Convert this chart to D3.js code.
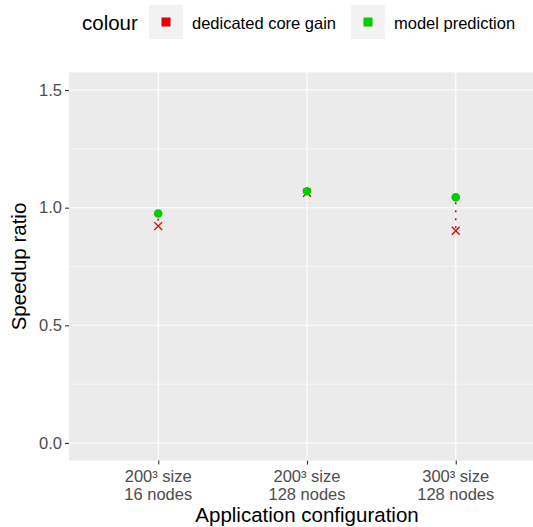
<!DOCTYPE html>
<html>
<head>
<meta charset="utf-8">
<script src="https://cdn.jsdelivr.net/npm/d3@7"></script>
<style>
  body { margin: 0; background: #fff; }
  text { font-family: "Liberation Sans", Arial, sans-serif; }
</style>
</head>
<body>
<script>
'use strict'

// data
const configs = ['200³ size\n16 nodes', '200³ size\n128 nodes', '300³ size\n128 nodes']
const dedicatedGain = [0.922, 1.063, 0.902]
const modelPrediction = [0.975, 1.07, 1.044]
const yTicks = [0, 0.5, 1, 1.5]
const yMinor = [0.25, 0.75, 1.25]
const seriesNames = ['dedicated core gain', 'model prediction']
const seriesColors = ['#E00000', '#00CC00']

const width = 533, height = 527
const panel = { left: 69, top: 72.4, right: 545, bottom: 460.6 }

const svg = d3.select('body').append('svg')
  .attr('width', width)
  .attr('height', height)

// scales, with ggplot-ish expansion
const yScale = d3.scaleLinear()
  .domain([-0.075, 1.575])
  .range([panel.bottom, panel.top])

const xScale = d3.scalePoint()
  .domain(configs)
  .range([panel.left, panel.right])
  .padding(0.6)

// panel background
svg.append('rect')
  .attr('x', panel.left).attr('y', panel.top)
  .attr('width', panel.right - panel.left)
  .attr('height', panel.bottom - panel.top)
  .attr('fill', '#EBEBEB')

// minor grid
svg.selectAll('.minor').data(yMinor).enter().append('line')
  .attr('x1', panel.left).attr('x2', panel.right)
  .attr('y1', d => yScale(d)).attr('y2', d => yScale(d))
  .attr('stroke', '#fff').attr('stroke-width', 0.55)

// major grid
svg.selectAll('.major').data(yTicks).enter().append('line')
  .attr('x1', panel.left).attr('x2', panel.right)
  .attr('y1', d => yScale(d)).attr('y2', d => yScale(d))
  .attr('stroke', '#fff').attr('stroke-width', 1.1)

svg.selectAll('.vmajor').data(configs).enter().append('line')
  .attr('x1', d => xScale(d)).attr('x2', d => xScale(d))
  .attr('y1', panel.top).attr('y2', panel.bottom)
  .attr('stroke', '#fff').attr('stroke-width', 1.1)

// y axis
const yAxis = svg.append('g')
  .attr('transform', `translate(${panel.left},0)`)
  .call(d3.axisLeft(yScale).tickValues(yTicks).tickFormat(d3.format('.1f')).tickSize(4).tickPadding(3))
yAxis.select('.domain').remove()
yAxis.selectAll('line').attr('stroke', '#333').attr('stroke-width', 1.1)
yAxis.selectAll('text').attr('fill', '#4D4D4D').style('font-size', '16.5px')
  .style('font-family', '"Liberation Sans", Arial, sans-serif')

// x axis
const xAxis = svg.append('g')
  .attr('transform', `translate(0,${panel.bottom})`)
  .call(d3.axisBottom(xScale).tickSize(4).tickFormat(''))
xAxis.select('.domain').remove()
xAxis.selectAll('line').attr('stroke', '#333').attr('stroke-width', 1.1)

configs.forEach(c => {
  const lines = c.split('\n')
  const t = svg.append('text')
    .attr('x', xScale(c))
    .attr('y', 481.5)
    .attr('text-anchor', 'middle')
    .attr('fill', '#4D4D4D')
    .style('font-size', '16.5px')
  lines.forEach((l, i) => {
    t.append('tspan').attr('x', xScale(c)).attr('dy', i === 0 ? 0 : 18.5).text(l)
  })
})

// axis titles
svg.append('text')
  .attr('x', (panel.left + panel.right) / 2)
  .attr('y', 522)
  .attr('text-anchor', 'middle')
  .style('font-size', '20.5px')
  .text('Application configuration')

svg.append('text')
  .attr('transform', `translate(26,${(panel.top + panel.bottom) / 2}) rotate(-90)`)
  .attr('text-anchor', 'middle')
  .style('font-size', '20.5px')
  .text('Speedup ratio')

// dotted gap segments
svg.selectAll('.gap').data(configs).enter().append('line')
  .attr('x1', d => xScale(d)).attr('x2', d => xScale(d))
  .attr('y1', (d, i) => yScale(modelPrediction[i]))
  .attr('y2', (d, i) => yScale(dedicatedGain[i]))
  .attr('stroke', seriesColors[0])
  .attr('stroke-width', 1.6)
  .attr('stroke-dasharray', '2,6')
  .attr('stroke-dashoffset', -5)

// dedicated core gain: crosses
const cross = d3.symbol().type(d3.symbolX).size(42)
svg.selectAll('.gain').data(dedicatedGain).enter().append('path')
  .attr('d', cross)
  .attr('transform', (d, i) => `translate(${xScale(configs[i])},${yScale(d)})`)
  .attr('fill', 'none')
  .attr('stroke', seriesColors[0])
  .attr('stroke-width', 1.3)

// model prediction: dots
svg.selectAll('.pred').data(modelPrediction).enter().append('circle')
  .attr('cx', (d, i) => xScale(configs[i]))
  .attr('cy', d => yScale(d))
  .attr('r', 4.3)
  .attr('fill', seriesColors[1])

// legend
const legend = svg.append('g')
svg.append('text')
  .attr('x', 82).attr('y', 30)
  .style('font-size', '20.5px')
  .text('colour')

const keyX = [149, 351]
const textX = [192, 394]
seriesNames.forEach((name, i) => {
  legend.append('rect')
    .attr('x', keyX[i]).attr('y', 5)
    .attr('width', 34).attr('height', 34)
    .attr('fill', '#F2F2F2')
  legend.append('rect')
    .attr('x', keyX[i] + 12.5).attr('y', 17.5)
    .attr('width', 9).attr('height', 9)
    .attr('fill', seriesColors[i])
  legend.append('text')
    .attr('x', textX[i]).attr('y', 28.5)
    .style('font-size', '16.5px')
    .text(name)
})
</script>
</body>
</html>
